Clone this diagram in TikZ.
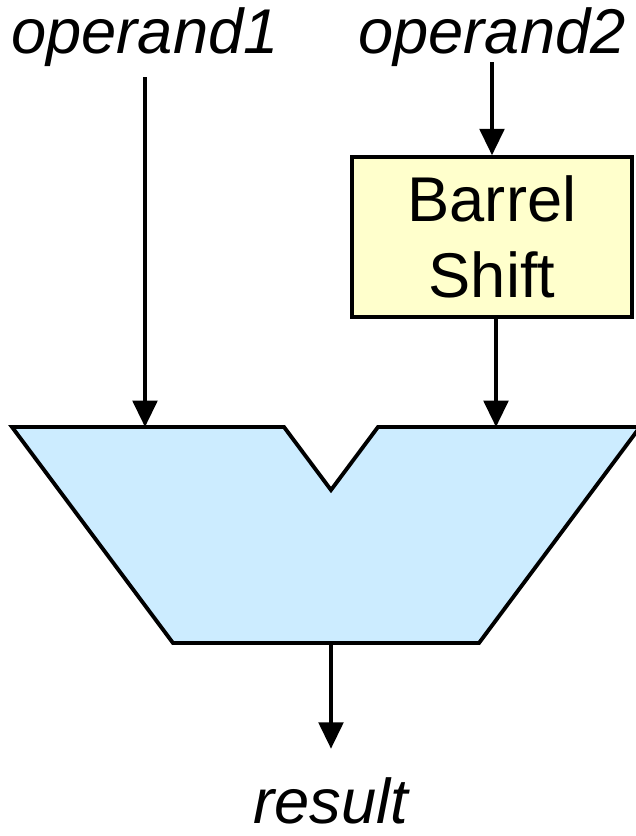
\documentclass[tikz,border=0pt]{standalone}
\usepackage{fontspec}
\setmainfont{Liberation Sans}
\usetikzlibrary{arrows.meta,positioning}

\definecolor{shiftfill}{HTML}{FFFFCC}
\definecolor{alufill}{HTML}{CCECFF}

\begin{document}
\begin{tikzpicture}[
    x=0.02cm, y=-0.02cm,
    >={Triangle[length=15pt, width=14pt]},
    wire/.style={->, line width=2pt},
    lbl/.style={font=\fontsize{36}{43}\selectfont\itshape, inner sep=0pt},
    shiftbox/.style={draw, line width=2pt, fill=shiftfill, align=center,
        minimum width=5.6cm, minimum height=3.2cm,
        font=\fontsize{36}{43}\selectfont}
]
    \useasboundingbox (0,0) rectangle (636,836);

    % inputs and output labels
    \node[lbl, anchor=base] (op1) at (145,53) {operand1};
    \node[lbl, anchor=base] (op2) at (492,53) {operand2};
    \node[lbl, anchor=base] (res) at (331,823) {result};

    \node[shiftbox] (shifter) at (492,237) {Barrel\\Shift};

    % the ALU body with its notch
    \draw[line width=2.2pt, fill=alufill, line join=miter]
        (12,427) -- (284,427) -- (331,490) -- (378,427) -- (640,427)
        -- (479,643) -- (173,643) -- cycle;
    \coordinate (in1) at (145,427);
    \coordinate (in2) at (496,427);
    \coordinate (out) at (331,643);

    \draw[wire, shorten <=6pt] (op1.south) -- (in1);
    \draw[wire, shorten <=-2.5pt] (op2.south) -- (shifter.north);
    \draw[wire] (shifter.south -| in2) -- (in2);
    \draw[wire, shorten >=16pt] (out) -- (res.north);
\end{tikzpicture}
\end{document}
